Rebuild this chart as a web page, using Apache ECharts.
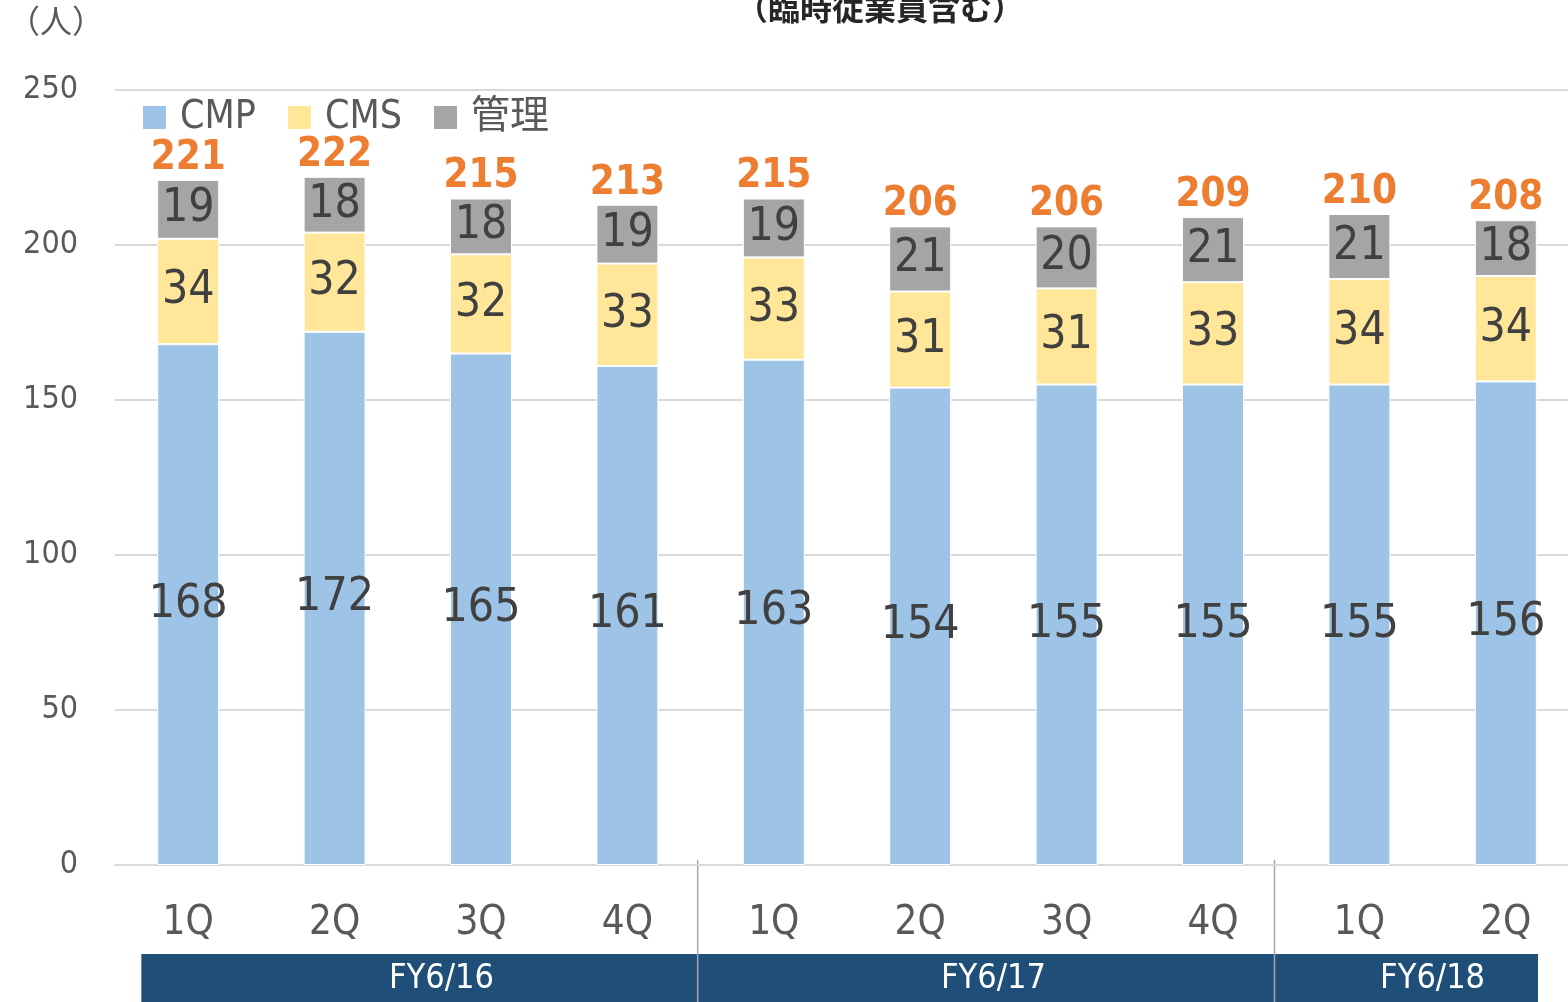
<!DOCTYPE html>
<html>
<head>
<meta charset="utf-8">
<script src="https://cdn.jsdelivr.net/npm/echarts@6/dist/echarts.min.js"></script>
<style>
html,body{margin:0;padding:0;background:#fff;overflow:hidden;width:1568px;height:1002px;}
#main{width:1582px;height:1002px;}
</style>
</head>
<body>
<div id="main"></div>
<script>
// ---- data ----
var categories = ['1Q','2Q','3Q','4Q','1Q','2Q','3Q','4Q','1Q','2Q'];
var cmp   = [168,172,165,161,163,154,155,155,155,156];
var cms   = [34,32,32,33,33,31,31,33,34,34];
var kanri = [19,18,18,19,19,21,20,21,21,18];
var totals = [221,222,215,213,215,206,206,209,210,208];
var seriesNames = ['CMP','CMS','管理'];
var fiscalYears = ['FY6/16','FY6/17','FY6/18'];
var yTicks = [0,50,100,150,200,250];

// ---- layout ----
var FONT = "'DejaVu Sans Condensed','DejaVu Sans','Noto Sans CJK JP',sans-serif";
var GL = 115, GT = 90, GW = 1464, GH = 775;
var step = GW / categories.length;
function cx(u){ return GL + u * step; }

var chart = echarts.init(document.getElementById('main'), null, {renderer:'canvas'});

var segLabel = {show:true, position:'inside', fontSize:46, color:'#404040', fontFamily:FONT};

var option = {
  backgroundColor:'#fff',
  animation:false,
  grid:{left:GL, top:GT, width:GW, height:GH, containLabel:false},
  legend:{
    data:seriesNames,
    left:136, top:93,
    icon:'rect', itemWidth:25, itemHeight:25, itemGap:30,
    textStyle:{fontSize:39, color:'#595959', fontFamily:FONT, padding:[0,0,0,8]}
  },
  xAxis:{
    type:'category', data:categories,
    axisLine:{show:true, lineStyle:{color:'#D9D9D9', width:2}},
    axisTick:{show:false},
    axisLabel:{fontSize:40, color:'#595959', margin:39, fontFamily:FONT}
  },
  yAxis:{
    type:'value', min:yTicks[0], max:yTicks[yTicks.length-1], interval:50,
    axisLine:{show:false}, axisTick:{show:false},
    splitLine:{lineStyle:{color:'#D9D9D9', width:2}},
    axisLabel:{fontSize:32, color:'#595959', margin:37, fontFamily:FONT}
  },
  series:[
    {name:seriesNames[0], type:'bar', stack:'s', data:cmp, barWidth:62,
     itemStyle:{color:'#9DC3E6', borderColor:'#fff', borderWidth:1}, label:segLabel},
    {name:seriesNames[1], type:'bar', stack:'s', data:cms, barWidth:62,
     itemStyle:{color:'#FFE699', borderColor:'#fff', borderWidth:1}, label:segLabel},
    {name:seriesNames[2], type:'bar', stack:'s', data:kanri, barWidth:62,
     itemStyle:{color:'#A5A5A5', borderColor:'#fff', borderWidth:1}, label:segLabel},
    {name:'合計', type:'line', data:totals, symbol:'circle', symbolSize:1, showSymbol:true, silent:true,
     itemStyle:{color:'rgba(0,0,0,0)'}, lineStyle:{color:'rgba(0,0,0,0)', width:0},
     label:{show:true, position:'top', distance:1, fontSize:40, fontWeight:'bold',
            color:'#ED7D31', fontFamily:FONT}}
  ],
  graphic:[]
};

// band below the category labels and separators
var bandTop = 954, bandBottom = 1002;
var g = [];
g.push({type:'text', left:8, top:9, style:{text:'（人）', font:'32px '+FONT, fill:'#595959'}});
g.push({type:'text', x:880, y:-4, style:{text:'（臨時従業員含む）', font:'bold 32px '+FONT, fill:'#262626', textAlign:'center'}});
g.push({type:'rect', shape:{x:cx(0.18), y:bandTop, width:cx(9.72)-cx(0.18), height:bandBottom-bandTop}, style:{fill:'#1F4E79'}});
var fyCenters = [2.23, 6.0, 9.0];
for (var i=0;i<fiscalYears.length;i++){
  g.push({type:'text', x:cx(fyCenters[i]), y:(bandTop+bandBottom)/2+1, style:{text:fiscalYears[i], font:'34px '+FONT, fill:'#fff', textAlign:'center', textVerticalAlign:'middle'}});
}
var seps = [3.98, 7.92];
for (var j=0;j<seps.length;j++){
  g.push({type:'line', shape:{x1:cx(seps[j]), y1:860, x2:cx(seps[j]), y2:1002}, style:{stroke:'#A6A6A6', lineWidth:1.5}});
}
option.graphic = g;
chart.setOption(option);
</script>
</body>
</html>
